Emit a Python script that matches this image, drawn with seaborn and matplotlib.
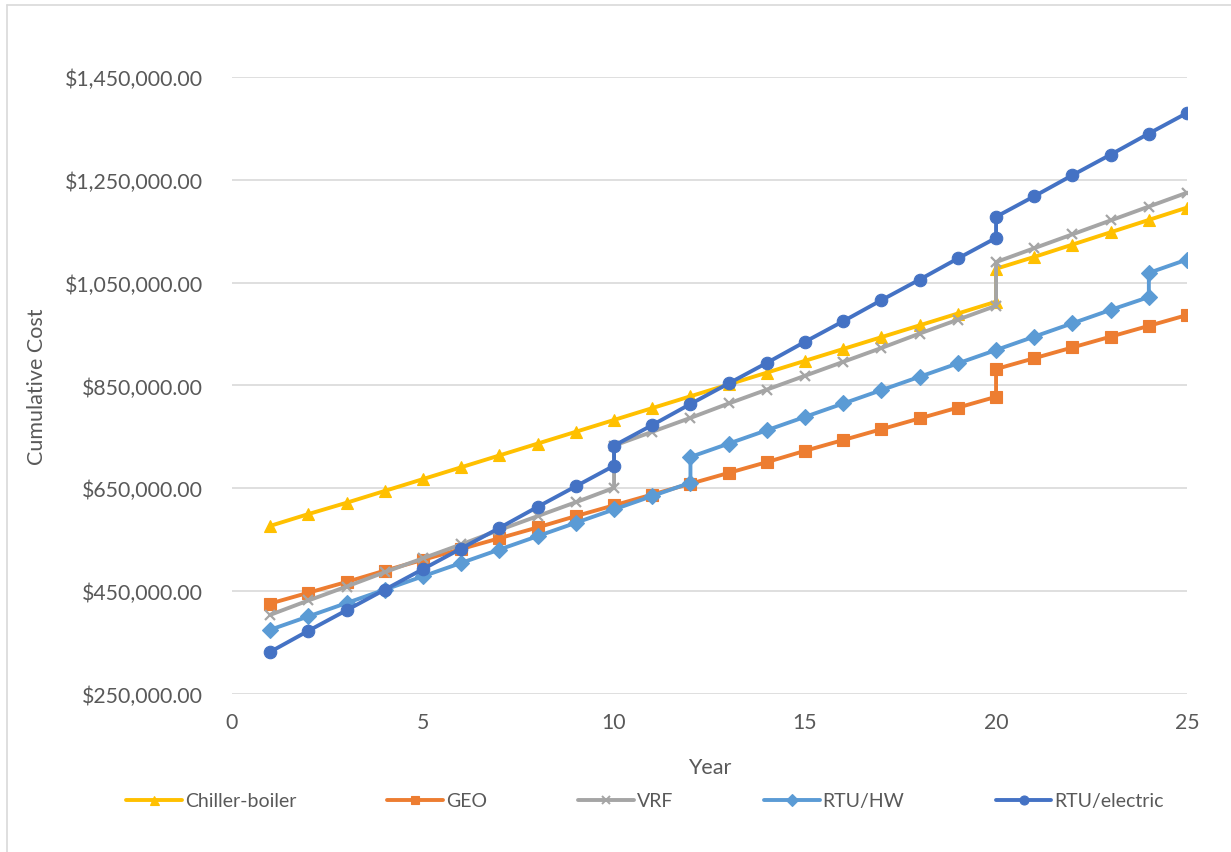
import matplotlib
matplotlib.use("Agg")
import matplotlib.pyplot as plt
from matplotlib.lines import Line2D
from matplotlib.ticker import FuncFormatter, FixedLocator
import pandas as pd
import seaborn as sns

# Years (a repeated year marks an equipment replacement step)
years_chiller = [1, 2, 3, 4, 5, 6, 7, 8, 9, 10, 11, 12, 13, 14, 15, 16, 17, 18, 19, 20, 20, 21, 22, 23, 24, 25]
cost_chiller = [577, 600, 622, 645, 668, 691, 714, 737, 760, 783, 806, 829, 852, 875, 898, 921, 944, 967,
                990, 1013, 1077, 1100, 1124, 1148, 1172, 1196]

years_geo = [1, 2, 3, 4, 5, 6, 7, 8, 9, 10, 11, 12, 13, 14, 15, 16, 17, 18, 19, 20, 20, 21, 22, 23, 24, 25]
cost_geo = [426, 447, 468, 490, 511, 532, 553, 574, 596, 617, 638, 659, 680, 701, 723, 744, 765, 786,
            807, 828, 882, 903, 924, 945, 966, 987]

years_vrf = [1, 2, 3, 4, 5, 6, 7, 8, 9, 10, 10, 11, 12, 13, 14, 15, 16, 17, 18, 19, 20, 20, 21, 22, 23, 24, 25]
cost_vrf = [404, 432, 459, 487, 514, 541, 569, 596, 623, 651, 733, 760, 787, 815, 842, 869, 896, 923,
            951, 978, 1005, 1090, 1117, 1144, 1171, 1198, 1225]

years_rtuhw = [1, 2, 3, 4, 5, 6, 7, 8, 9, 10, 11, 12, 12, 13, 14, 15, 16, 17, 18, 19, 20, 21, 22, 23, 24, 24, 25]
cost_rtuhw = [375, 401, 427, 453, 479, 505, 531, 557, 583, 609, 635, 661, 711, 737, 763, 789, 815, 841,
              867, 893, 919, 945, 971, 997, 1022, 1069, 1095]

years_rtuel = [1, 2, 3, 4, 5, 6, 7, 8, 9, 10, 10, 11, 12, 13, 14, 15, 16, 17, 18, 19, 20, 20, 21, 22, 23, 24, 25]
cost_rtuel = [332, 373, 413, 453, 493, 533, 573, 614, 654, 694, 733, 773, 814, 854, 894, 935, 975, 1016,
              1056, 1097, 1137, 1178, 1218, 1259, 1299, 1340, 1380]

y_ticks = [250000, 450000, 650000, 850000, 1050000, 1250000, 1450000]
x_ticks = [0, 5, 10, 15, 20, 25]

systems = ["Chiller-boiler", "GEO", "VRF", "RTU/HW", "RTU/electric"]
colors = ["#FFC000", "#ED7D31", "#A5A5A5", "#5B9BD5", "#4472C4"]
markers = ["^", "s", "x", "D", "o"]
marker_sizes = [9, 8.5, 7.5, 8.5, 9]

series = [(years_chiller, cost_chiller), (years_geo, cost_geo), (years_vrf, cost_vrf),
          (years_rtuhw, cost_rtuhw), (years_rtuel, cost_rtuel)]

frames = []
for name, (yrs, vals) in zip(systems, series):
    frames.append(pd.DataFrame({"Year": yrs,
                                "Cost": [v * 1000 for v in vals],
                                "System": name,
                                "step": range(len(yrs))}))
df = pd.concat(frames, ignore_index=True)

sns.set_theme(style="white")
plt.rcParams["font.family"] = ["Lato", "DejaVu Sans"]
text_color = "#595959"

fig = plt.figure(figsize=(12.31, 8.53), dpi=100)
ax = fig.add_axes([0.1885, 0.1852, 0.7758, 0.7234])

for name, col, mk, ms in zip(systems, colors, markers, marker_sizes):
    sub = df[df["System"] == name].sort_values("step")
    sns.lineplot(data=sub, x="Year", y="Cost", sort=False, estimator=None,
                 color=col, marker=mk, markersize=ms, linewidth=2.8,
                 markeredgecolor=col, markeredgewidth=1.6 if mk == "x" else 0.8,
                 ax=ax, legend=False)

ax.set_xlim(0, 25)
ax.set_ylim(250000, 1450000)
ax.xaxis.set_major_locator(FixedLocator(x_ticks))
ax.yaxis.set_major_locator(FixedLocator(y_ticks))
ax.yaxis.set_major_formatter(FuncFormatter(lambda v, p: f"${v:,.2f}"))

ax.grid(axis="y", color="#D9D9D9", linewidth=1.2)
ax.grid(axis="x", visible=False)
ax.set_axisbelow(True)
for s in ax.spines.values():
    s.set_visible(False)

ax.tick_params(axis="both", length=0, labelsize=15.3, labelcolor=text_color)
ax.tick_params(axis="y", pad=21)
ax.tick_params(axis="x", pad=13)

ax.set_xlabel("Year", fontsize=15.5, color=text_color, labelpad=18)
ax.set_ylabel("Cumulative Cost", fontsize=15.5, color=text_color, labelpad=13)

handles = [Line2D([0], [0], color=c, marker=m, markersize=s * 0.72, linewidth=2.8,
                  markeredgewidth=1.4 if m == "x" else 0.8, markeredgecolor=c)
           for c, m, s in zip(colors, markers, marker_sizes)]
fig.legend(handles, systems, loc="center", bbox_to_anchor=(0.524, 0.06), ncol=5,
           frameon=False, fontsize=14, labelcolor=text_color, handlelength=2.85,
           handletextpad=0.15, columnspacing=4.7)

# chart frame
fig.add_artist(Line2D([7 / 1231, 1.0], [1 - 6 / 853, 1 - 6 / 853], color="#D9D9D9", linewidth=1.2))
fig.add_artist(Line2D([7 / 1231, 7 / 1231], [0.0, 1 - 6 / 853], color="#D9D9D9", linewidth=1.2))

fig.savefig("out.png", dpi=100)
